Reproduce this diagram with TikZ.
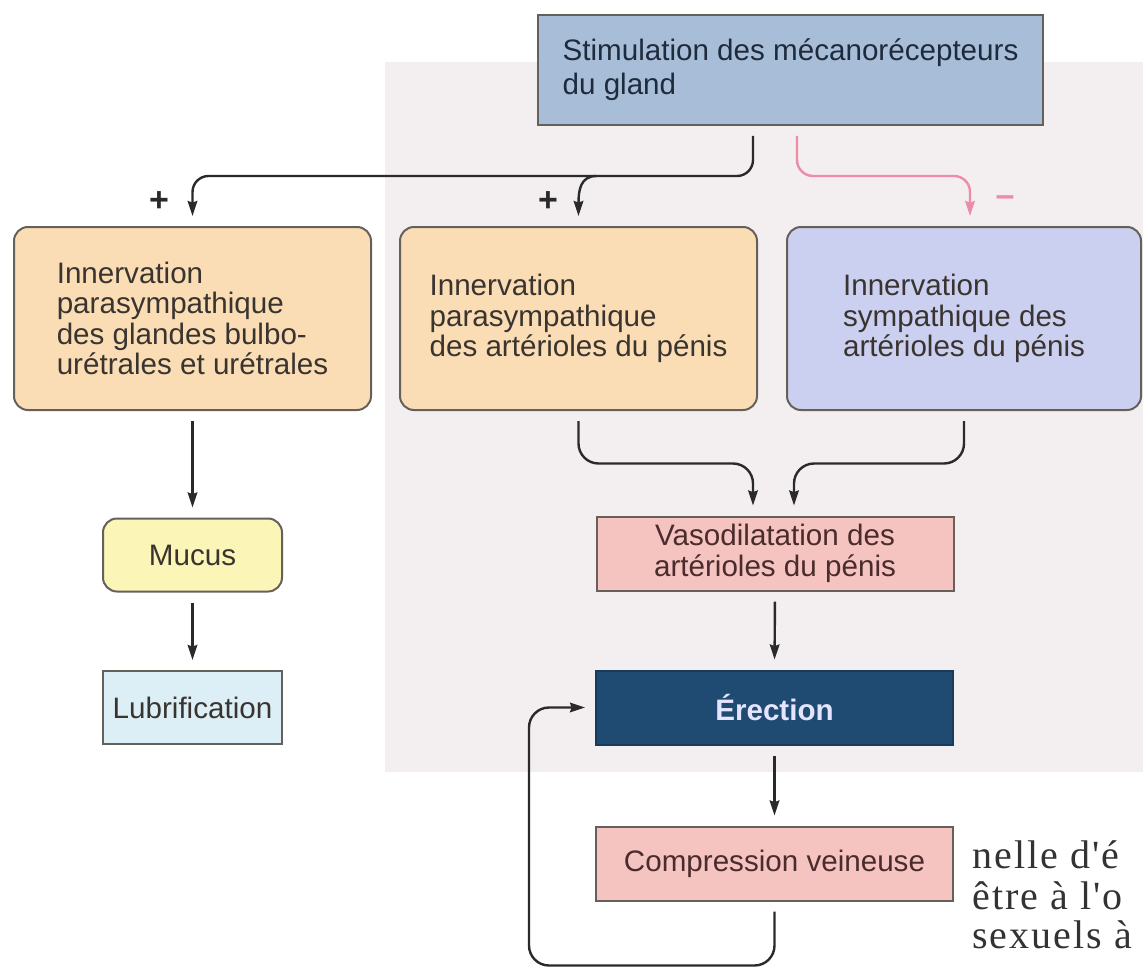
\documentclass[tikz,border=0pt]{standalone}
\usepackage{fontspec}
\setmainfont{Liberation Sans}
\newfontfamily\bookfont[LetterSpace=5]{Liberation Serif}
\usetikzlibrary{arrows.meta}
\definecolor{shadebg}{HTML}{F3EFF0}
\definecolor{stimfill}{HTML}{A8BED8}
\definecolor{stimink}{HTML}{1E2B3C}
\definecolor{parafill}{HTML}{FADDB4}
\definecolor{sympfill}{HTML}{CBD0F0}
\definecolor{mucusfill}{HTML}{FBF5B8}
\definecolor{lubfill}{HTML}{DDEFF6}
\definecolor{vasofill}{HTML}{F5C4C0}
\definecolor{erecfill}{HTML}{1F4A72}
\definecolor{edgec}{HTML}{66605A}
\definecolor{linec}{HTML}{2A2A2A}
\definecolor{inhibc}{HTML}{EE8CA8}
\definecolor{inkc}{HTML}{3A3430}
\definecolor{brownink}{HTML}{4A2C2C}
\tikzset{
  basebox/.style={draw=edgec, line width=1pt, inner sep=0pt, align=left,
    text=inkc, font=\fontsize{14.8pt}{15.2pt}\selectfont},
  stimbox/.style={basebox, fill=stimfill, text=stimink, minimum width=252.5pt,
    minimum height=55pt, font=\fontsize{14.8pt}{17pt}\selectfont},
  nervebox/.style={basebox, rounded corners=7pt, minimum width=178.5pt, minimum height=91.5pt},
  smallbox/.style={basebox, minimum width=89.5pt, minimum height=36.5pt, align=center},
  resultbox/.style={basebox, fill=vasofill, text=brownink, minimum width=178.5pt,
    minimum height=37pt, align=center},
  flow/.style={draw=linec, line width=1.2pt, -{Stealth[length=7.5pt,width=4.8pt,inset=0.8pt]},
    shorten >=5pt, shorten <=5pt},
  sign/.style={font=\fontsize{17pt}{17pt}\selectfont\bfseries, text=linec, inner sep=0pt},
  booktext/.style={font=\bookfont\fontsize{20pt}{20pt}\selectfont, text=black!80, inner sep=0pt}
}
\begin{document}
\begin{tikzpicture}[x=0.5pt,y=-0.5pt]
\useasboundingbox (0,0) rectangle (1143,968);
\fill[shadebg] (385,62) rectangle (1143,772);
\node[stimbox] (stim) at (790.5,70) {Stimulation des mécanorécepteurs\\du gland};
\node[nervebox, fill=parafill] (glandes) at (192.5,318.5) {Innervation\\parasympathique\\des glandes bulbo-\\urétrales et urétrales};
\node[nervebox, fill=parafill] (paraart) at (578.5,318.5) {Innervation\\parasympathique\\des artérioles du pénis};
\node[nervebox, fill=sympfill, minimum width=177pt] (symp) at (964,318.5) {Innervation\\sympathique des\\artérioles du pénis};
\node[smallbox, fill=mucusfill, rounded corners=7pt] (mucus) at (192.5,555) {Mucus};
\node[smallbox, fill=lubfill] (lubrif) at (192.5,707.5) {Lubrification};
\node[resultbox] (vaso) at (775,553.5) {Vasodilatation des\\artérioles du pénis};
\node[resultbox, fill=erecfill, draw=erecfill!80!black, text=white!90!blue, font=\fontsize{14.8pt}{15.2pt}\selectfont\bfseries] (erec) at (774.5,707.5) {Érection};
\node[resultbox] (comp) at (774.5,863.5) {Compression veineuse};
\node[sign] (plusl) at (159,202) {+};
\node[sign] (plusm) at (548,202) {+};
\node[sign, text=inhibc] (minus) at (1005,201) {–};
\draw[flow, rounded corners=8pt] ([xshift=-18.75pt]stim.south) |- ([yshift=25pt]glandes.north) -- (glandes.north);
\draw[flow, shorten <=0pt] ([xshift=9pt,yshift=25pt]paraart.north) .. controls ([xshift=1pt,yshift=25pt]paraart.north) and ([yshift=18pt]paraart.north) .. (paraart.north);
\draw[flow, draw=inhibc, rounded corners=8pt] ([xshift=3.25pt]stim.south) |- ([xshift=3pt,yshift=25pt]symp.north) -- ([xshift=3pt]symp.north);
\draw[flow] (glandes.south) -- (mucus.north);
\draw[flow] (mucus.south) -- (lubrif.north);
\draw[flow, rounded corners=10pt] (paraart.south) |- ([xshift=-11pt,yshift=26pt]vaso.north) -- ([xshift=-11pt]vaso.north);
\draw[flow, rounded corners=10pt] (symp.south) |- ([xshift=9.5pt,yshift=26pt]vaso.north) -- ([xshift=9.5pt]vaso.north);
\draw[flow] (vaso.south) -- (erec.north);
\draw[flow] (erec.south) -- (comp.north);
\draw[flow, rounded corners=10pt] (comp.south) -- ++(0,64) -| ([xshift=-33pt]erec.west) -- (erec.west);
\node[booktext, anchor=base west] (page1) at (972,868) {nelle d'é};
\node[booktext, anchor=base west] (page2) at (972,909) {être à l'o};
\node[booktext, anchor=base west] (page3) at (972,948) {sexuels à};
\end{tikzpicture}
\end{document}
